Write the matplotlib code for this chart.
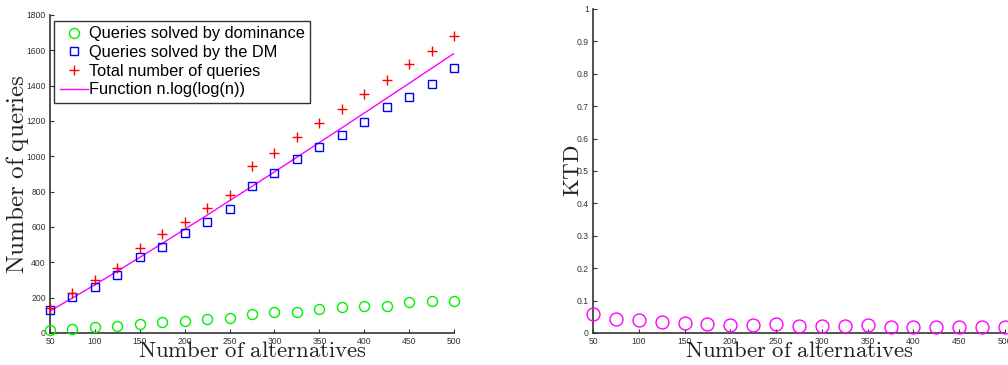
import matplotlib
matplotlib.use("Agg")
import matplotlib.pyplot as plt

plt.rcParams['mathtext.fontset'] = 'cm'
plt.rcParams['font.family'] = ['Liberation Sans', 'DejaVu Sans']

n_alt = [50, 75, 100, 125, 150, 175, 200, 225, 250, 275, 300, 325, 350, 375, 400, 425, 450, 475, 500]
dominance = [17, 24, 36, 40, 51, 64, 66, 77, 83, 107, 117, 119, 134, 145, 153, 153, 175, 183, 179]
by_dm = [130, 205, 262, 328, 428, 489, 564, 626, 700, 834, 904, 983, 1051, 1120, 1194, 1277, 1337, 1409, 1500]
total = [143, 225, 300, 370, 483, 558, 630, 706, 781, 945, 1020, 1107, 1187, 1270, 1353, 1432, 1521, 1598, 1681]
func_vals = [125, 198, 273, 350, 428, 507, 587, 667, 749, 830, 912, 995, 1078, 1161, 1245, 1329, 1413, 1498, 1582]
ktd = [0.059, 0.043, 0.040, 0.035, 0.030, 0.028, 0.025, 0.024, 0.027, 0.023, 0.023, 0.023, 0.024,
       0.020, 0.019, 0.019, 0.020, 0.019, 0.020]

x_ticks = [50, 100, 150, 200, 250, 300, 350, 400, 450, 500]
y1_ticks = [0, 200, 400, 600, 800, 1000, 1200, 1400, 1600, 1800]
y2_ticks = [0, 0.1, 0.2, 0.3, 0.4, 0.5, 0.6, 0.7, 0.8, 0.9, 1]
y2_labels = ['0', '0.1', '0.2', '0.3', '0.4', '0.5', '0.6', '0.7', '0.8', '0.9', '1']

fig = plt.figure(figsize=(10.08, 3.65), dpi=100)
W, H = 1008, 365
ax1 = fig.add_axes([50 / W, 1 - 333 / H, (454 - 50) / W, (333 - 15) / H])
ax2 = fig.add_axes([593 / W, 1 - 333 / H, (1005 - 593) / W, (333 - 9) / H])

def style(ax):
    for s in ['top', 'right']:
        ax.spines[s].set_visible(False)
    for s in ['left', 'bottom']:
        ax.spines[s].set_color('#333333')
        ax.spines[s].set_linewidth(1.2)
    ax.tick_params(direction='in', length=3, width=0.8, labelsize=6.2, colors='#333333', pad=3)
    ax.set_xlim(50, 500)
    ax.set_xticks(x_ticks)

style(ax1)
ax1.plot(n_alt, dominance, 'o', mfc='none', mec='#00ee00', ms=7.2, mew=1.0,
         label='Queries solved by dominance', clip_on=False, zorder=3)
ax1.plot(n_alt, by_dm, 's', mfc='none', mec='#0000ff', ms=5.5, mew=1.0,
         label='Queries solved by the DM', clip_on=False, zorder=3)
ax1.plot(n_alt, total, '+', color='#ff0000', ms=7.5, mew=1.0,
         label='Total number of queries', clip_on=False, zorder=3)
ax1.plot(n_alt, func_vals, '-', color='#ff00ff', lw=1.0,
         label='Function n.log(log(n))', zorder=2)
ax1.set_ylim(0, 1800)
ax1.set_yticks(y1_ticks)
ax1.set_xlabel(r'$\mathrm{Number\ of\ alternatives}$', fontsize=16.4, labelpad=-5, color='#222222')
ax1.set_ylabel(r'$\mathrm{Number\ of\ queries}$', fontsize=18, labelpad=-3, color='#222222')
leg = ax1.legend(loc='upper left', bbox_to_anchor=(0.0, 0.995), fontsize=11.8, frameon=True,
                 fancybox=False, edgecolor='black', borderpad=0.35, labelspacing=0.22,
                 handlelength=1.7, handletextpad=0.05, borderaxespad=0.25)
leg.get_frame().set_linewidth(1.0)

style(ax2)
ax2.plot(n_alt, ktd, 'o', mfc='none', mec='#ff00ff', ms=9.3, mew=1.0, clip_on=False, zorder=3)
ax2.set_ylim(0, 1)
ax2.set_yticks(y2_ticks)
ax2.set_yticklabels(y2_labels)
ax2.set_xlabel(r'$\mathrm{Number\ of\ alternatives}$', fontsize=16.4, labelpad=-5, color='#222222')
ax2.set_ylabel(r'$\mathrm{KTD}$', fontsize=16.6, labelpad=-5, color='#222222')

fig.savefig('out.png', dpi=100)
